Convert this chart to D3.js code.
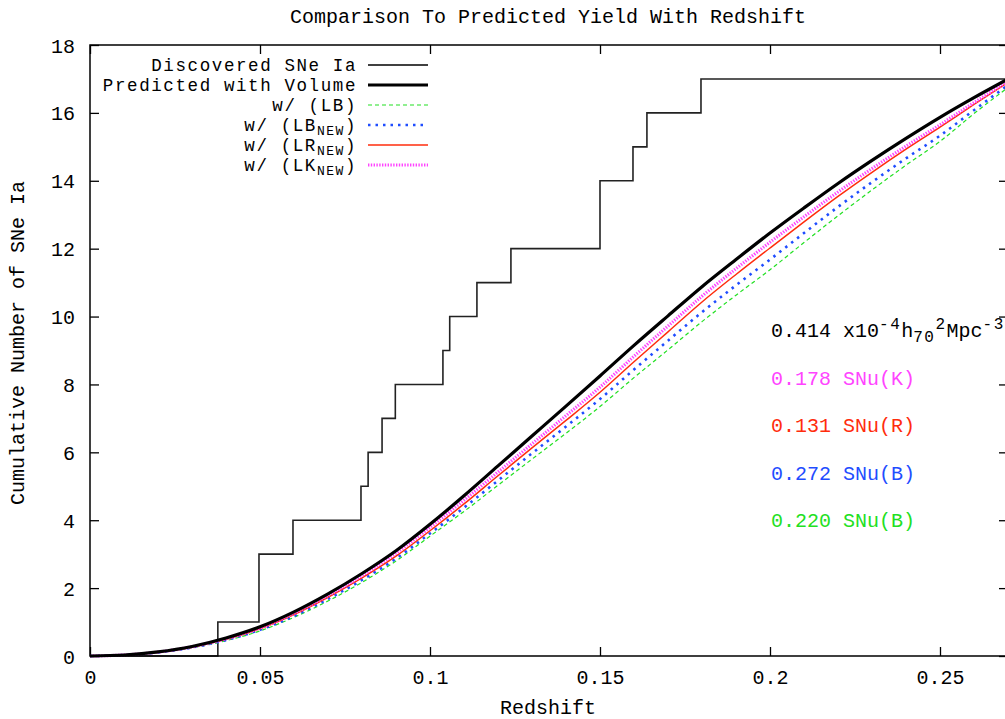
<!DOCTYPE html>
<html>
<head>
<meta charset="utf-8">
<script src="https://cdn.jsdelivr.net/npm/d3@7"></script>
<style>
  body { margin: 0; background: #fff; }
  svg { display: block; }
  text { font-family: "Liberation Mono", "DejaVu Sans Mono", monospace; fill: #000; }
</style>
</head>
<body>
<svg id="chart" width="1005" height="719"></svg>
<script>
// Discovered SNe Ia: cumulative count, stepping up at each redshift
const stepZ = [0, 0.0376, 0.0497, 0.0597, 0.0797, 0.0818, 0.0859, 0.0898, 0.1038, 0.1058, 0.1138, 0.1238, 0.1500, 0.1597, 0.1638, 0.1797, 0.27];
const stepN = [0, 1, 3, 4, 5, 6, 7, 8, 9, 10, 11, 12, 14, 15, 16, 17, 17];

// Predicted cumulative yields sampled in redshift
const modelZ = [0, 0.01, 0.02, 0.03, 0.04, 0.05, 0.06, 0.07, 0.08, 0.09, 0.10, 0.11, 0.12, 0.13, 0.14,
                0.15, 0.16, 0.17, 0.18, 0.19, 0.20, 0.21, 0.22, 0.23, 0.24, 0.25, 0.26, 0.27];
const predVolume = [0, 0.03, 0.12, 0.28, 0.53, 0.86, 1.30, 1.83, 2.43, 3.10, 3.88, 4.72, 5.60, 6.48, 7.36,
                    8.25, 9.15, 10.02, 10.88, 11.68, 12.46, 13.20, 13.92, 14.60, 15.25, 15.87, 16.45, 17.00];
const predLKnew = [0, 0.03, 0.115, 0.27, 0.51, 0.83, 1.26, 1.78, 2.37, 3.03, 3.79, 4.59, 5.42, 6.25, 7.08,
                   7.92, 8.83, 9.72, 10.60, 11.41, 12.19, 12.94, 13.67, 14.36, 15.02, 15.65, 16.30, 16.93];
const predLRnew = [0, 0.03, 0.11, 0.26, 0.49, 0.80, 1.22, 1.73, 2.30, 2.94, 3.69, 4.48, 5.31, 6.13, 6.94,
                   7.77, 8.67, 9.55, 10.43, 11.24, 12.02, 12.79, 13.54, 14.25, 14.93, 15.58, 16.25, 16.90];
const predLBnew = [0, 0.03, 0.105, 0.25, 0.47, 0.77, 1.18, 1.68, 2.24, 2.87, 3.61, 4.37, 5.17, 5.97, 6.76,
                   7.57, 8.44, 9.29, 10.13, 10.92, 11.68, 12.46, 13.23, 13.96, 14.66, 15.33, 16.08, 16.82];
const predLB = [0, 0.025, 0.10, 0.24, 0.45, 0.74, 1.14, 1.62, 2.17, 2.80, 3.53, 4.26, 5.03, 5.80, 6.56,
                7.35, 8.20, 9.02, 9.85, 10.63, 11.38, 12.18, 12.97, 13.73, 14.46, 15.16, 15.98, 16.75];

// Axis ticks
const xTicks = [0, 0.05, 0.1, 0.15, 0.2, 0.25];
const xTickLabels = ["0", "0.05", "0.1", "0.15", "0.2", "0.25"];
const yTicks = [0, 2, 4, 6, 8, 10, 12, 14, 16, 18];

const svg = d3.select("#chart");
const mLeft = 90, mRight = 1008, mTop = 45, mBottom = 656;

const x = d3.scaleLinear().domain([0, 0.27]).range([mLeft, mRight]);
const y = d3.scaleLinear().domain([0, 18]).range([mBottom, mTop]);

const FS = 20;

// Title
svg.append("text")
  .attr("x", 548).attr("y", 23)
  .attr("text-anchor", "middle")
  .style("font-size", "20px")
  .text("Comparison To Predicted Yield With Redshift");

// Clip for plot area
svg.append("clipPath").attr("id", "plotClip")
  .append("rect").attr("x", mLeft).attr("y", mTop - 2)
  .attr("width", mRight - mLeft).attr("height", mBottom - mTop + 4);

// Axes with inward ticks (mirrored on top and right)
const axB = svg.append("g").attr("transform", `translate(0,${mBottom})`)
  .call(d3.axisBottom(x).tickValues(xTicks).tickSize(-9).tickPadding(0)
    .tickFormat((d, i) => xTickLabels[i]));
const axT = svg.append("g").attr("transform", `translate(0,${mTop})`)
  .call(d3.axisTop(x).tickValues(xTicks).tickSize(-9).tickFormat(""));
const axL = svg.append("g").attr("transform", `translate(${mLeft},0)`)
  .call(d3.axisLeft(y).tickValues(yTicks).tickSize(-9).tickPadding(0));
const axR = svg.append("g").attr("transform", `translate(${mRight},0)`)
  .call(d3.axisRight(y).tickValues(yTicks).tickSize(-9).tickFormat(""));

[axB, axT, axL, axR].forEach(g => {
  g.select(".domain").remove();
  g.selectAll(".tick line").attr("stroke", "#000").attr("stroke-width", 1.3);
});
axB.selectAll(".tick text")
  .attr("y", 28).attr("dy", 0)
  .style("font-size", FS + "px").attr("fill", "#000")
  .style("font-family", "'Liberation Mono', monospace");
axL.selectAll(".tick text")
  .attr("x", -15).attr("dy", "0.35em")
  .style("font-size", FS + "px").attr("fill", "#000")
  .style("font-family", "'Liberation Mono', monospace");

// Axis titles
svg.append("text")
  .attr("x", 548).attr("y", 714)
  .attr("text-anchor", "middle")
  .style("font-size", "20px")
  .text("Redshift");
svg.append("text")
  .attr("transform", "translate(24,343) rotate(-90)")
  .attr("text-anchor", "middle")
  .style("font-size", "20px")
  .text("Cumulative Number of SNe Ia");

// Series definitions
const series = [
  { name: "LB", vals: predLB, color: "#22e022", width: 1.2, dash: "4,3" },
  { name: "LBnew", vals: predLBnew, color: "#1f4dff", width: 2.6, dash: "2.5,5" },
  { name: "LRnew", vals: predLRnew, color: "#ff2c0c", width: 1.5, dash: null },
  { name: "LKnew", vals: predLKnew, color: "#ff44ff", width: 3.2, dash: "1.4,1.4" },
  { name: "Volume", vals: predVolume, color: "#000", width: 3.2, dash: null }
];

const plot = svg.append("g").attr("clip-path", "url(#plotClip)");

const stepLine = d3.line()
  .x((d, i) => x(stepZ[i])).y((d, i) => y(stepN[i]))
  .curve(d3.curveStepAfter);
plot.append("path")
  .attr("d", stepLine(stepZ))
  .attr("fill", "none").attr("stroke", "#222").attr("stroke-width", 1.6);

const modelLine = vals => d3.line()
  .x((d, i) => x(modelZ[i])).y((d, i) => y(vals[i]))
  .curve(d3.curveMonotoneX)(modelZ);

series.forEach(s => {
  plot.append("path")
    .attr("d", modelLine(s.vals))
    .attr("fill", "none")
    .attr("stroke", s.color)
    .attr("stroke-width", s.width)
    .attr("stroke-dasharray", s.dash);
});

// Plot frame
svg.append("path")
  .attr("d", `M${mRight},${mTop}H${mLeft}V${mBottom}H${mRight}`)
  .attr("fill", "none").attr("stroke", "#000").attr("stroke-width", 1.5);
svg.append("line")
  .attr("x1", mRight).attr("x2", mRight).attr("y1", mTop).attr("y2", mBottom)
  .attr("stroke", "#000").attr("stroke-width", 1.5);

// Legend
const legend = svg.append("g");
const legendRows = [
  { label: ["Discovered SNe Ia"], color: "#000", width: 1.6, dash: null },
  { label: ["Predicted with Volume"], color: "#000", width: 3.2, dash: null },
  { label: ["w/ (LB)"], color: "#22e022", width: 1.2, dash: "4,3" },
  { label: ["w/ (LB", "NEW", ")"], color: "#1f4dff", width: 2.6, dash: "2.5,5" },
  { label: ["w/ (LR", "NEW", ")"], color: "#ff2c0c", width: 1.5, dash: null },
  { label: ["w/ (LK", "NEW", ")"], color: "#ff44ff", width: 3.2, dash: "1.4,1.4" }
];
legendRows.forEach((r, i) => {
  const cy = 65 + i * 20;
  const t = legend.append("text")
    .attr("x", 357).attr("y", cy + 6)
    .attr("text-anchor", "end")
    .style("font-size", "17.5px")
    .style("letter-spacing", "1.6px");
  t.append("tspan").text(r.label[0]);
  if (r.label.length > 1) {
    t.append("tspan").attr("dy", 4).style("font-size", "13px").style("letter-spacing", "1.5px").text(r.label[1]);
    t.append("tspan").attr("dy", -4).text(r.label[2]);
  }
  legend.append("line")
    .attr("x1", 368).attr("x2", 428).attr("y1", cy).attr("y2", cy)
    .attr("stroke", r.color).attr("stroke-width", r.width)
    .attr("stroke-dasharray", r.dash);
});

// Rate annotations
const ann = svg.append("g").style("font-size", FS + "px");
const a0 = ann.append("text").attr("x", 771).attr("y", 337);
const small = { "font-size": "16px", "letter-spacing": "1.5px" };
a0.append("tspan").text("0.414 x10");
a0.append("tspan").attr("dy", -8).style("font-size", small["font-size"]).style("letter-spacing", small["letter-spacing"]).text("-4");
a0.append("tspan").attr("dy", 8).text("h");
a0.append("tspan").attr("dy", 5).style("font-size", small["font-size"]).style("letter-spacing", small["letter-spacing"]).text("70");
a0.append("tspan").attr("dy", -13).style("font-size", small["font-size"]).style("letter-spacing", small["letter-spacing"]).text("2");
a0.append("tspan").attr("dy", 8).text("Mpc");
a0.append("tspan").attr("dy", -8).style("font-size", small["font-size"]).style("letter-spacing", small["letter-spacing"]).text("-3");

const rateLabels = [
  { text: "0.178 SNu(K)", color: "#ff44ff", y: 385 },
  { text: "0.131 SNu(R)", color: "#ff2c0c", y: 432 },
  { text: "0.272 SNu(B)", color: "#1f4dff", y: 480 },
  { text: "0.220 SNu(B)", color: "#22e022", y: 527 }
];
rateLabels.forEach(r => {
  ann.append("text").attr("x", 771).attr("y", r.y)
    .style("fill", r.color).text(r.text);
});
</script>
</body>
</html>
